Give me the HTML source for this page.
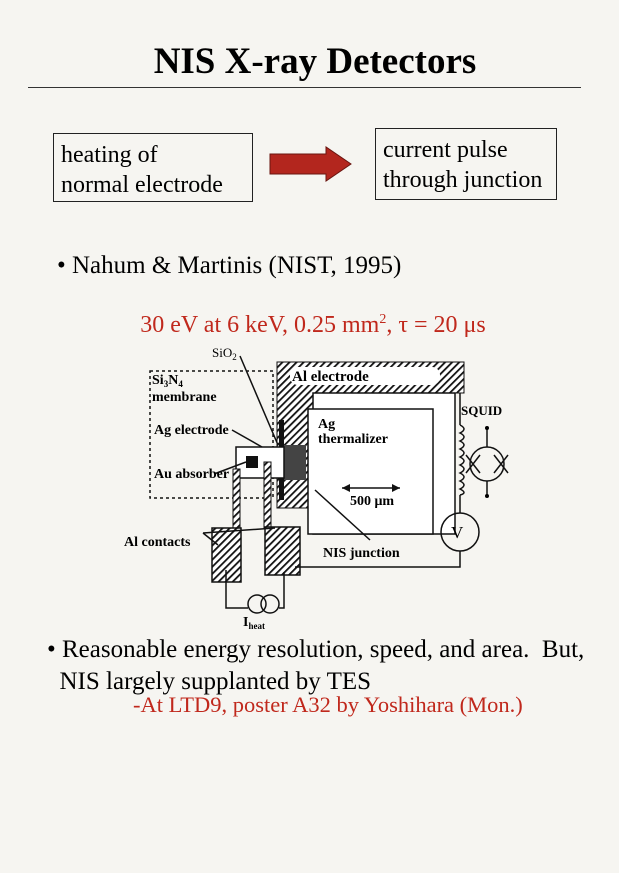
<!DOCTYPE html>
<html><head><style>
body{margin:0;width:619px;height:873px;background:#f6f5f1;position:relative;font-family:"Liberation Serif",serif;overflow:hidden}
.t{position:absolute;white-space:nowrap;line-height:1}
</style></head><body>
<div class="t" style="left:0;width:630px;text-align:center;top:43px;font-size:37px;font-weight:bold">NIS X-ray Detectors</div>
<div style="position:absolute;left:28px;top:87px;width:553px;height:1px;background:#333"></div>
<div style="position:absolute;left:53px;top:133px;width:198px;height:67px;border:1px solid #222"></div>
<div class="t" style="left:61px;top:140px;font-size:24px;line-height:30px">heating of<br>normal electrode</div>
<svg style="position:absolute;left:268px;top:145px" width="86" height="40"><polygon points="2,9 58,9 58,2 83,19 58,36 58,29 2,29" fill="#b3261e" stroke="#6a1510"/></svg>
<div style="position:absolute;left:375px;top:128px;width:180px;height:70px;border:1px solid #222"></div>
<div class="t" style="left:383px;top:135px;font-size:24px;line-height:30px">current pulse<br>through junction</div>
<div class="t" style="left:57px;top:253px;font-size:25px">• Nahum &amp; Martinis (NIST, 1995)</div>
<div class="t" style="left:0;width:626px;text-align:center;top:313px;font-size:24px;color:#c0281c">30 eV at 6 keV, 0.25 mm<sup style="font-size:14px">2</sup>, τ = 20 μs</div>
<svg style="position:absolute;left:0;top:0" width="619" height="873" font-family="Liberation Serif,serif" font-size="14" font-weight="bold">
<defs><pattern id="h" width="5" height="5" patternUnits="userSpaceOnUse" patternTransform="rotate(45)"><rect width="5" height="5" fill="#fff"/><rect width="1.8" height="5" fill="#111"/></pattern></defs>
<rect x="150" y="371" width="123" height="127" fill="none" stroke="#111" stroke-width="1.5" stroke-dasharray="3,3"/>
<path d="M277,362 H464 V393 H315 V508 H277 Z" fill="url(#h)" stroke="#111"/>
<rect x="290" y="367" width="150" height="18" rx="8" fill="#fff"/>
<rect x="313" y="393" width="142" height="141" fill="#fff" stroke="#111" stroke-width="1.5"/>
<rect x="308" y="409" width="125" height="125" fill="#fff" stroke="#111" stroke-width="1.5"/>
<rect x="279" y="420" width="5" height="80" fill="#111"/>
<rect x="284" y="445" width="22" height="35" fill="#444"/>
<rect x="236" y="447" width="48" height="31" fill="#fff" stroke="#111" stroke-width="1.5"/>
<rect x="246" y="456" width="12" height="12" fill="#111"/>
<rect x="233" y="469" width="7" height="62" fill="url(#h)" stroke="#111"/>
<rect x="264" y="462" width="7" height="67" fill="url(#h)" stroke="#111"/>
<rect x="212" y="528" width="29" height="54" fill="url(#h)" stroke="#111" stroke-width="1.5"/>
<rect x="265" y="527" width="35" height="48" fill="url(#h)" stroke="#111" stroke-width="1.5"/>
<g fill="none" stroke="#111" stroke-width="1.5">
<path d="M226,570 V608 H248 M279,608 H284 V572"/>
<circle cx="257" cy="604" r="9"/><circle cx="270" cy="604" r="9"/>
<path d="M460,393 V425 M460,495 V513 M460,551 V567 H295"/>
<path d="M460,425 q8,4 0,8 q8,4 0,8 q8,4 0,8 q8,4 0,8 q8,4 0,8 q8,4 0,8 q8,4 0,8 q8,4 0,8 q8,4 0,6"/>
<circle cx="460" cy="532" r="19"/>
<circle cx="487" cy="464" r="17"/>
<path d="M487,428 V447 M487,481 V496 M466,455 l14,18 M466,473 l14,-18 M494,455 l14,18 M494,473 l14,-18"/>
<path d="M342,488 H400"/>
<path d="M240,356 L278,445 M232,430 L262,447 M214,474 L246,462 M315,490 L370,540 M203,533 L218,545 M203,533 L275,528"/>
</g>
<polygon points="342,488 350,484 350,492" fill="#111"/><polygon points="400,488 392,484 392,492" fill="#111"/>
<circle cx="487" cy="428" r="2"/><circle cx="487" cy="496" r="2"/>
<text x="292" y="381" font-size="15">Al electrode</text>
<text x="212" y="357" font-weight="normal" font-size="13">SiO<tspan font-size="9" dy="3">2</tspan></text>
<text x="152" y="384">Si<tspan font-size="9" dy="3">3</tspan><tspan dy="-3">N</tspan><tspan font-size="9" dy="3">4</tspan></text>
<text x="152" y="401">membrane</text>
<text x="154" y="434">Ag electrode</text>
<text x="154" y="478">Au absorber</text>
<text x="318" y="428">Ag</text>
<text x="318" y="443">thermalizer</text>
<text x="461" y="415" font-size="13">SQUID</text>
<text x="451" y="538" font-size="17" font-weight="normal">V</text>
<text x="350" y="505">500 μm</text>
<text x="124" y="546">Al contacts</text>
<text x="323" y="557">NIS junction</text>
<text x="243" y="626">I<tspan font-size="9" dy="3">heat</tspan></text>
</svg>
<div class="t" style="left:47px;top:634px;font-size:25px;line-height:32px">• Reasonable energy resolution, speed, and area.&nbsp; But,<br>&nbsp;&nbsp;NIS largely supplanted by TES</div>
<div class="t" style="left:133px;top:694px;font-size:22.5px;color:#c0281c">-At LTD9, poster A32 by Yoshihara (Mon.)</div>
</body></html>
